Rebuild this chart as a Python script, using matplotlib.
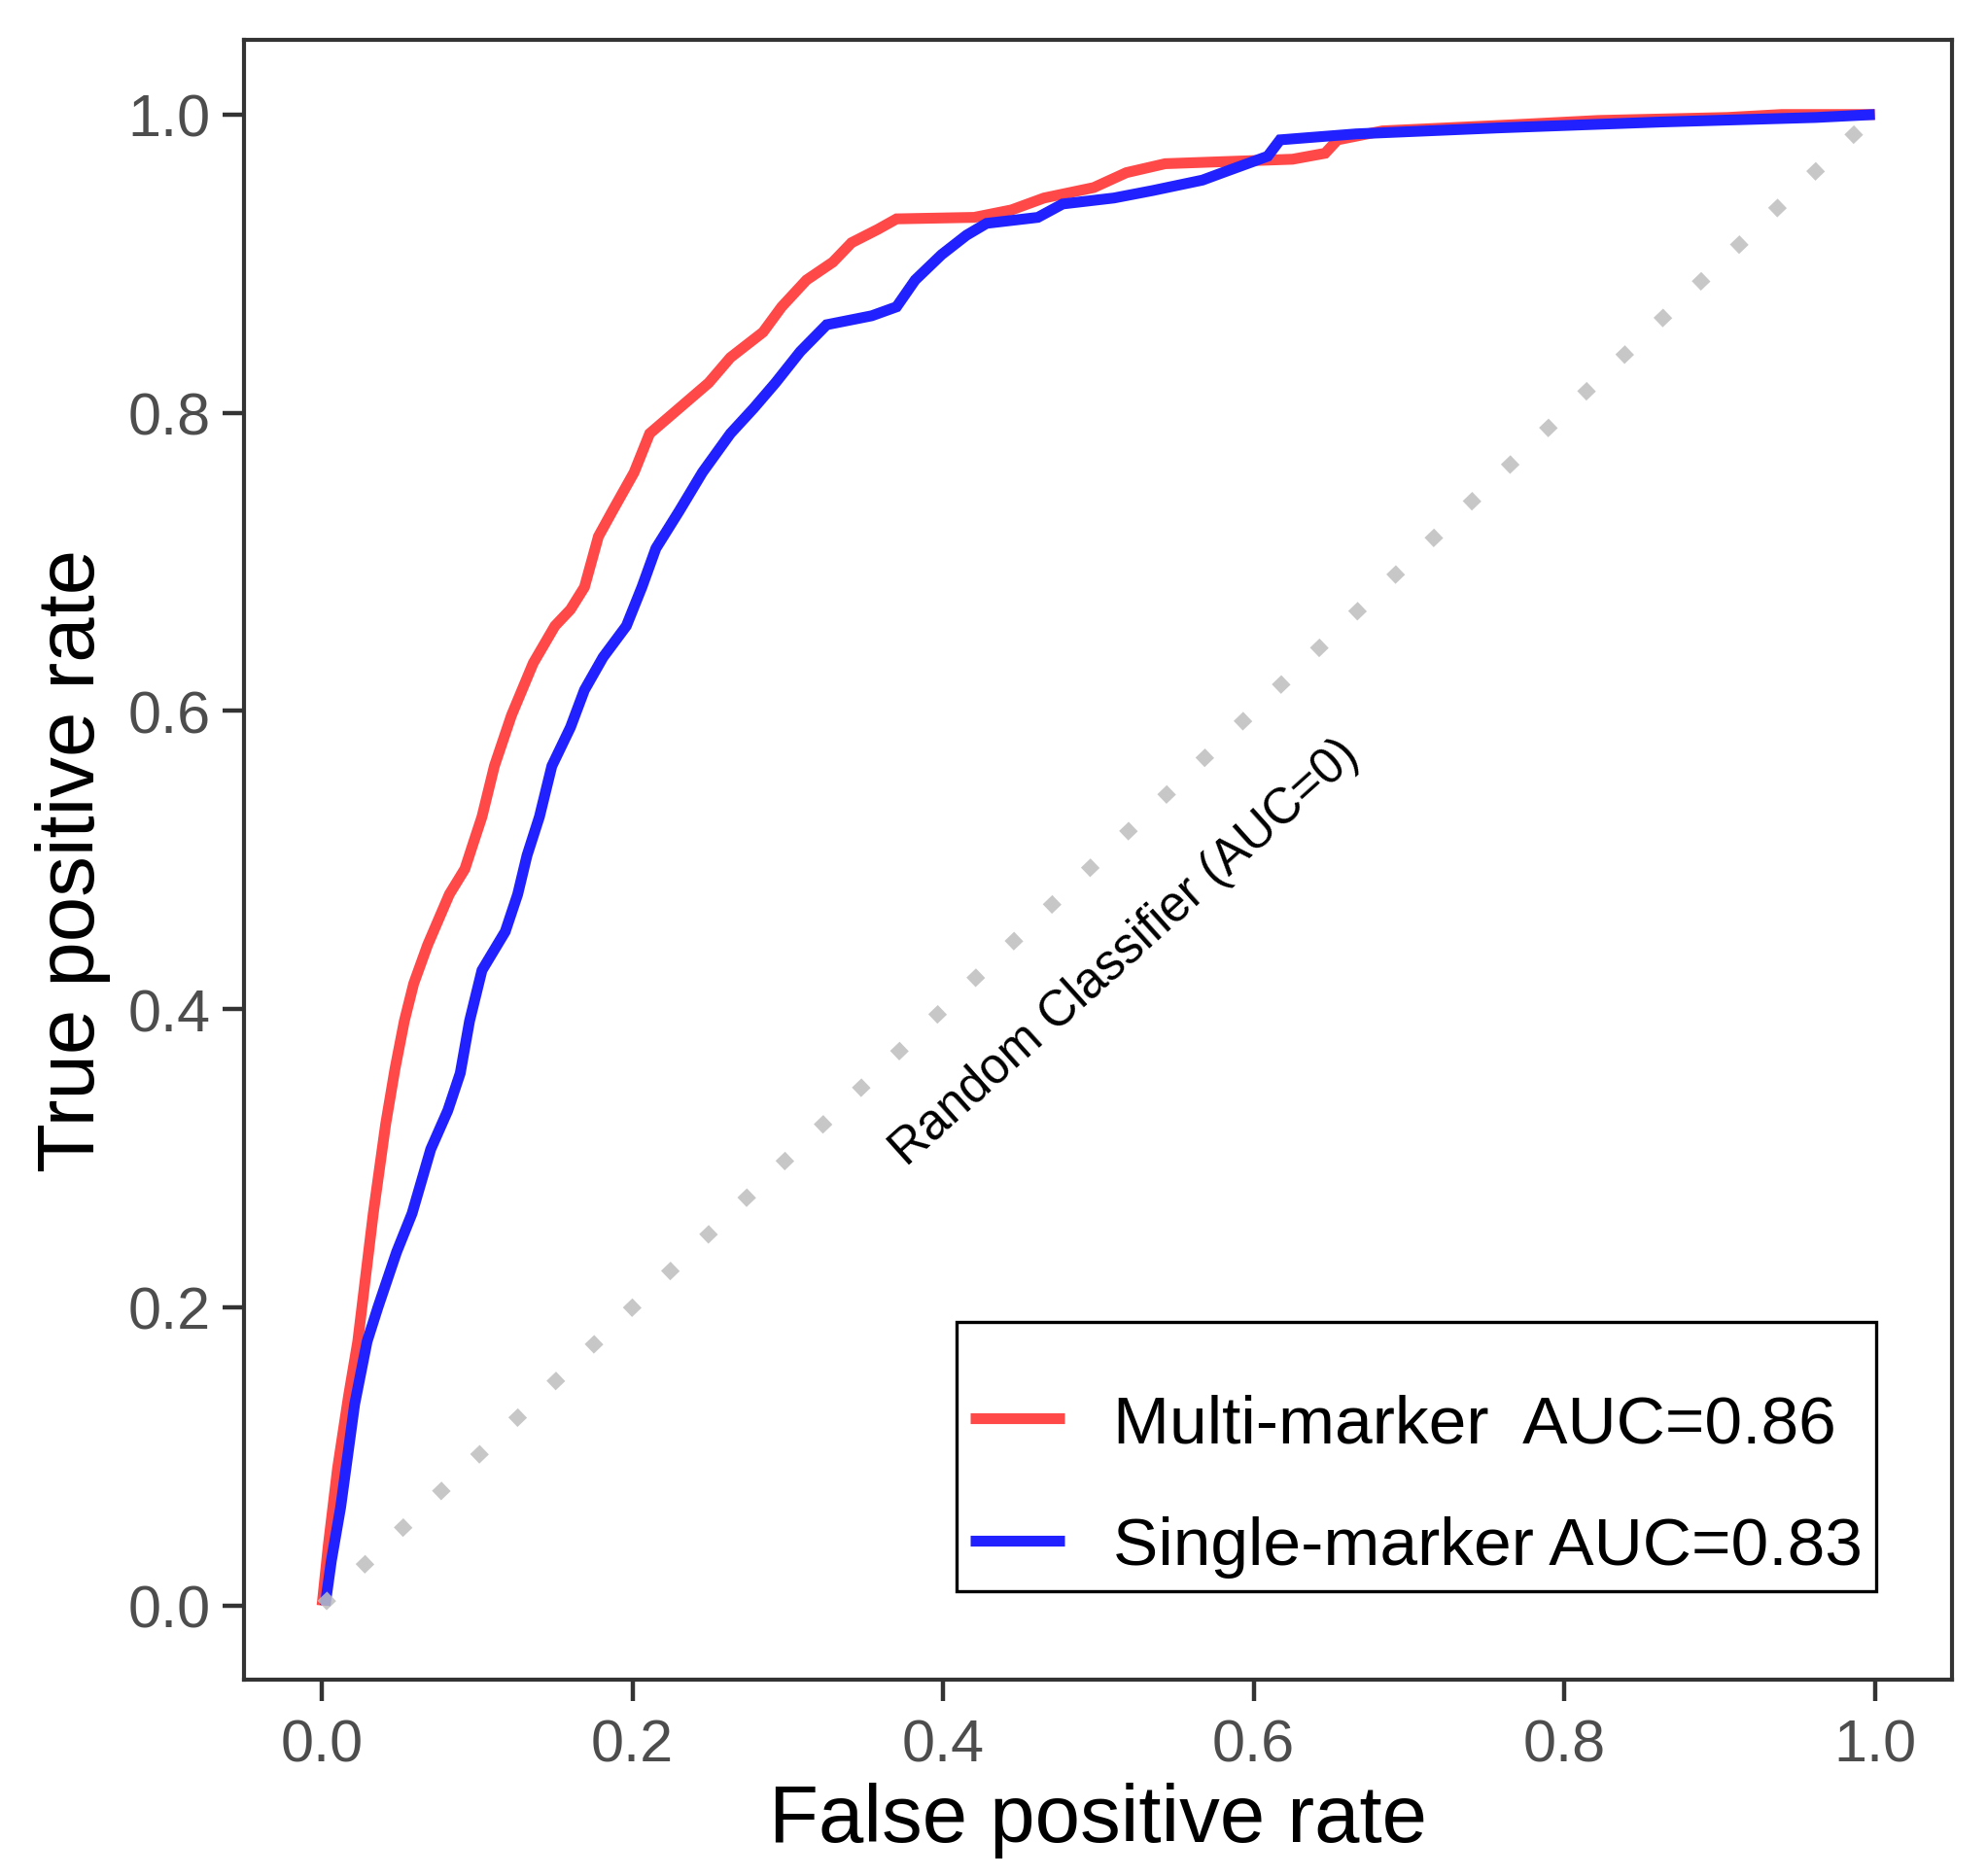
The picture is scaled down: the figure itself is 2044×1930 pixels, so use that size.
import matplotlib
matplotlib.use("Agg")
import matplotlib.pyplot as plt
import numpy as np

plt.rcParams['font.family'] = ['Liberation Sans', 'DejaVu Sans']

# ---- data ----
multi_fpr = [0.0, 0.004, 0.010, 0.017, 0.023, 0.028, 0.033, 0.041, 0.047, 0.053,
             0.059, 0.068, 0.075, 0.082, 0.092, 0.097, 0.103, 0.111, 0.122, 0.136,
             0.150, 0.160, 0.169, 0.178, 0.187, 0.201, 0.211, 0.230, 0.249, 0.263,
             0.284, 0.296, 0.312, 0.329, 0.341, 0.358, 0.370, 0.420, 0.444, 0.465,
             0.497, 0.518, 0.543, 0.625, 0.646, 0.654, 0.683, 0.765, 0.822, 0.905,
             0.940, 1.0]
multi_tpr = [0.0, 0.040, 0.092, 0.140, 0.177, 0.220, 0.263, 0.323, 0.360, 0.392,
             0.417, 0.443, 0.460, 0.477, 0.494, 0.510, 0.529, 0.563, 0.597, 0.632,
             0.657, 0.668, 0.683, 0.717, 0.734, 0.760, 0.786, 0.803, 0.820, 0.837,
             0.854, 0.871, 0.889, 0.901, 0.914, 0.923, 0.930, 0.931, 0.936, 0.944,
             0.951, 0.961, 0.967, 0.970, 0.974, 0.983, 0.989, 0.993, 0.996, 0.998,
             1.0, 1.0]

single_fpr = [0.002, 0.006, 0.012, 0.021, 0.029, 0.036, 0.048, 0.058, 0.070, 0.081,
              0.089, 0.095, 0.103, 0.118, 0.126, 0.132, 0.140, 0.148, 0.160, 0.169,
              0.181, 0.196, 0.206, 0.215, 0.230, 0.245, 0.263, 0.278, 0.292, 0.308,
              0.325, 0.354, 0.370, 0.382, 0.399, 0.415, 0.428, 0.461, 0.477, 0.510,
              0.535, 0.567, 0.580, 0.609, 0.617, 0.666, 0.757, 0.863, 0.962, 1.0]
single_tpr = [0.0, 0.030, 0.066, 0.135, 0.177, 0.200, 0.237, 0.263, 0.306, 0.332,
              0.357, 0.392, 0.426, 0.452, 0.477, 0.503, 0.529, 0.563, 0.589, 0.614,
              0.636, 0.657, 0.683, 0.709, 0.734, 0.760, 0.786, 0.803, 0.820, 0.841,
              0.859, 0.865, 0.871, 0.889, 0.906, 0.919, 0.927, 0.931, 0.940, 0.944,
              0.949, 0.956, 0.961, 0.972, 0.983, 0.987, 0.991, 0.995, 0.998, 1.0]

series_labels = ["Multi-marker  AUC=0.86", "Single-marker AUC=0.83"]
series_colors = ["#FF4848", "#2121FF"]
ticks = [0.0, 0.2, 0.4, 0.6, 0.8, 1.0]
tick_labels = ["0.0", "0.2", "0.4", "0.6", "0.8", "1.0"]
diag = [0.0, 1.0]

fig = plt.figure(figsize=(10.22, 9.655), dpi=200)
ax = fig.add_axes([0.123, 0.1044, 0.8596, 0.8738])

ax.plot(multi_fpr, multi_tpr, color=series_colors[0], lw=4.0,
        solid_capstyle='butt', solid_joinstyle='miter', label=series_labels[0], zorder=2)
ax.plot(single_fpr, single_tpr, color=series_colors[1], lw=4.0,
        solid_capstyle='butt', solid_joinstyle='miter', label=series_labels[1], zorder=3)
ax.plot(diag, diag, color='#BEBEBE', alpha=0.85, lw=4.9, linestyle=(0, (1, 3)),
        dash_capstyle='butt', zorder=4)

ax.text(0.517, 0.438, "Random Classifier (AUC=0)", rotation=42, fontsize=18.3,
        ha='center', va='center', rotation_mode='anchor', color='black')

ax.set_xlim(-0.05, 1.05)
ax.set_ylim(-0.05, 1.05)
ax.set_xticks(ticks)
ax.set_xticklabels(tick_labels)
ax.set_yticks(ticks)
ax.set_yticklabels(tick_labels)
ax.tick_params(axis='both', labelsize=22, labelcolor='#4D4D4D', color='#333333',
               length=8, width=1.6)
ax.tick_params(axis='x', pad=6)
ax.tick_params(axis='y', pad=4.4)
for sp in ax.spines.values():
    sp.set_color('#333333')
    sp.set_linewidth(1.5)

ax.set_xlabel("False positive rate", fontsize=30)
ax.set_ylabel("True positive rate", fontsize=30)
ax.xaxis.set_label_coords(0.5, -0.085)
ax.xaxis.label.set_va('center')
ax.yaxis.set_label_coords(-0.1006, 0.5)
ax.yaxis.label.set_va('center')

leg = ax.legend(loc='lower left', bbox_to_anchor=(0.417, 0.054), borderaxespad=0,
                fontsize=25, title=' ', title_fontsize=5, fancybox=False,
                edgecolor='black', framealpha=1, handlelength=1.4,
                handletextpad=0.72, borderpad=0.2, labelspacing=0.89)
leg.get_frame().set_linewidth(1.2)
# tighten the gap between the (empty) title area and the entries
leg._legend_box.sep = 16.5

fig.savefig("out.png", dpi=200)
